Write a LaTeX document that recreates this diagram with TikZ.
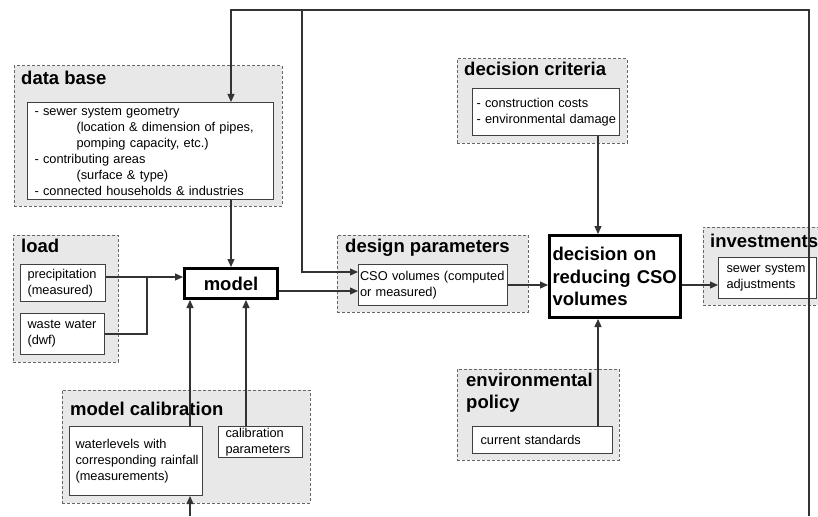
\documentclass[tikz,border=0pt]{standalone}
\usepackage{fontspec}
\setmainfont{Liberation Sans}
\usetikzlibrary{positioning,fit,arrows.meta}

\newcommand\boxfont{\fontsize{12.8pt}{16pt}\selectfont\hyphenpenalty=10000 }
\newcommand\headfont{\fontsize{18.5pt}{22pt}\selectfont\bfseries}

\begin{document}
\begin{tikzpicture}[
        x=1pt, y=-1pt,
        group/.style={
                rectangle,
                draw=black!60,
                dash pattern=on 3pt off 2pt,
                fill=black!9,
                line width=1pt,
                inner sep=0pt,
            },
        head/.style={
                anchor=base west,
                inner sep=0pt,
                font=\headfont,
            },
        box/.style={
                rectangle,
                draw=black!75,
                fill=white,
                anchor=north west,
                align=left,
                inner xsep=7pt,
                inner ysep=0pt,
                line width=1pt,
                font=\boxfont,
            },
        core/.style={
                rectangle,
                draw=black,
                fill=white,
                line width=3pt,
                font=\headfont,
            },
        flow/.style={
                draw=black!80,
                line width=1.2pt,
                -{Triangle[length=8pt,width=7pt]},
            },
        link/.style={
                draw=black!80,
                line width=1.2pt,
            }
    ]
    \clip (0,0) rectangle (818,516);
    \fill[white] (0,0) rectangle (818,516);

    % dashed groups
    \node[group, fit={(14,66)(282,206)}] (dbGroup) {};
    \node[group, fit={(13,235)(118,362)}] (loadGroup) {};
    \node[group, fit={(62,390)(310,503)}] (calGroup) {};
    \node[group, fit={(337,235)(528,312)}] (designGroup) {};
    \node[group, fit={(457,59)(627,143)}] (critGroup) {};
    \node[group, fit={(457,369)(619,460)}] (policyGroup) {};
    \node[group, fit={(703,227)(830,305)}] (investGroup) {};

    % group titles
    \node[head] (dbTitle) at (21,85) {data base};
    \node[head] (loadTitle) at (21,252) {load};
    \node[head] (calTitle) at (70,415) {model calibration};
    \node[head] (designTitle) at (345,252) {design parameters};
    \node[head] (critTitle) at (464,76) {decision criteria};
    \node[head, align=left] (policyTitle) at (466,408) {environmental\\policy};
    \node[head] (investTitle) at (710,247) {investments};

    % inner boxes
    \node[box, text width=232pt, minimum height=97pt] (dbBox) at (27,102) {- sewer system geometry\\
        \hspace*{42pt}(location \& dimension of pipes,\\
        \hspace*{42pt}pomping capacity, etc.)\\
        - contributing areas\\
        \hspace*{42pt}(surface \& type)\\
        - connected households \& industries};
    \node[box, text width=71pt, minimum height=37pt] (precipBox) at (20,264) {precipitation\\(measured)};
    \node[box, text width=70pt, minimum height=41pt] (wasteBox) at (20,313) {waste water\\(dwf)};
    \node[box, inner xsep=6pt, text width=121pt, minimum height=69pt] (waterBox) at (69,426) {waterlevels with\\\mbox{corresponding rainfall}\\(measurements)};
    \node[box, text width=70pt, minimum height=31pt] (paramBox) at (218,426) {calibration\\parameters};
    \node[box, inner xsep=1.5pt, text width=146pt, minimum height=41pt] (csoBox) at (358,264) {\mbox{CSO volumes (computed}\\or measured)};
    \node[box, inner xsep=4pt, text width=139pt, minimum height=47pt] (critBox) at (472,88) {- construction costs\\\mbox{- environmental damage}};
    \node[box, inner xsep=8pt, text width=124pt, minimum height=27pt] (stdBox) at (472,426) {current standards};
    \node[box, inner xsep=8pt, text width=82pt, minimum height=41pt] (adjBox) at (718,257) {sewer system\\adjustments};

    % central nodes
    \node[core, minimum width=93pt, minimum height=30pt] (model) at (231,283.5) {model};
    \node[core, minimum width=131pt, minimum height=82pt, text width=125pt, inner xsep=3pt, align=left] (decision) at (615,276.5) {\fontsize{18.5pt}{22.5pt}\selectfont decision on\\reducing CSO\\volumes};

    % feedback loop
    \coordinate (loopBottom) at (809,516);
    \coordinate (loopTop) at (809,10);
    \coordinate (branch) at (302,10);
    \coordinate (loadJoin) at (147,277);
    \coordinate (calIn) at (190,516);

    \draw[flow] (loopBottom) -- (loopTop) -| (model.north |- dbBox.north);
    \draw[flow] (branch) |- ([yshift=13pt]csoBox.west);
    \draw[flow] (model.north |- dbBox.south) -- (model.north);
    \draw[flow] (loadJoin -| precipBox.east) -- (loadJoin -| model.west);
    \draw[link] (wasteBox.east) -| (loadJoin);
    \draw[flow] (calIn) -- (calIn |- waterBox.south);
    \draw[flow] (calIn |- waterBox.north) -- (calIn |- model.south);
    \draw[flow] ([xshift=15pt]model.south |- paramBox.north) -- ([xshift=15pt]model.south);
    \draw[flow] ([yshift=-7.5pt]model.east) -- ([yshift=-7.5pt]model.east -| csoBox.west);
    \draw[flow] (csoBox.east) -- (csoBox.east -| decision.west);
    \draw[flow] (csoBox.east -| decision.east) -- (csoBox.east -| adjBox.west);
    \draw[flow] ([xshift=-17pt]decision.north |- critBox.south) -- ([xshift=-17pt]decision.north);
    \draw[flow] ([xshift=-17pt]decision.south |- stdBox.north) -- ([xshift=-17pt]decision.south);
\end{tikzpicture}
\end{document}
